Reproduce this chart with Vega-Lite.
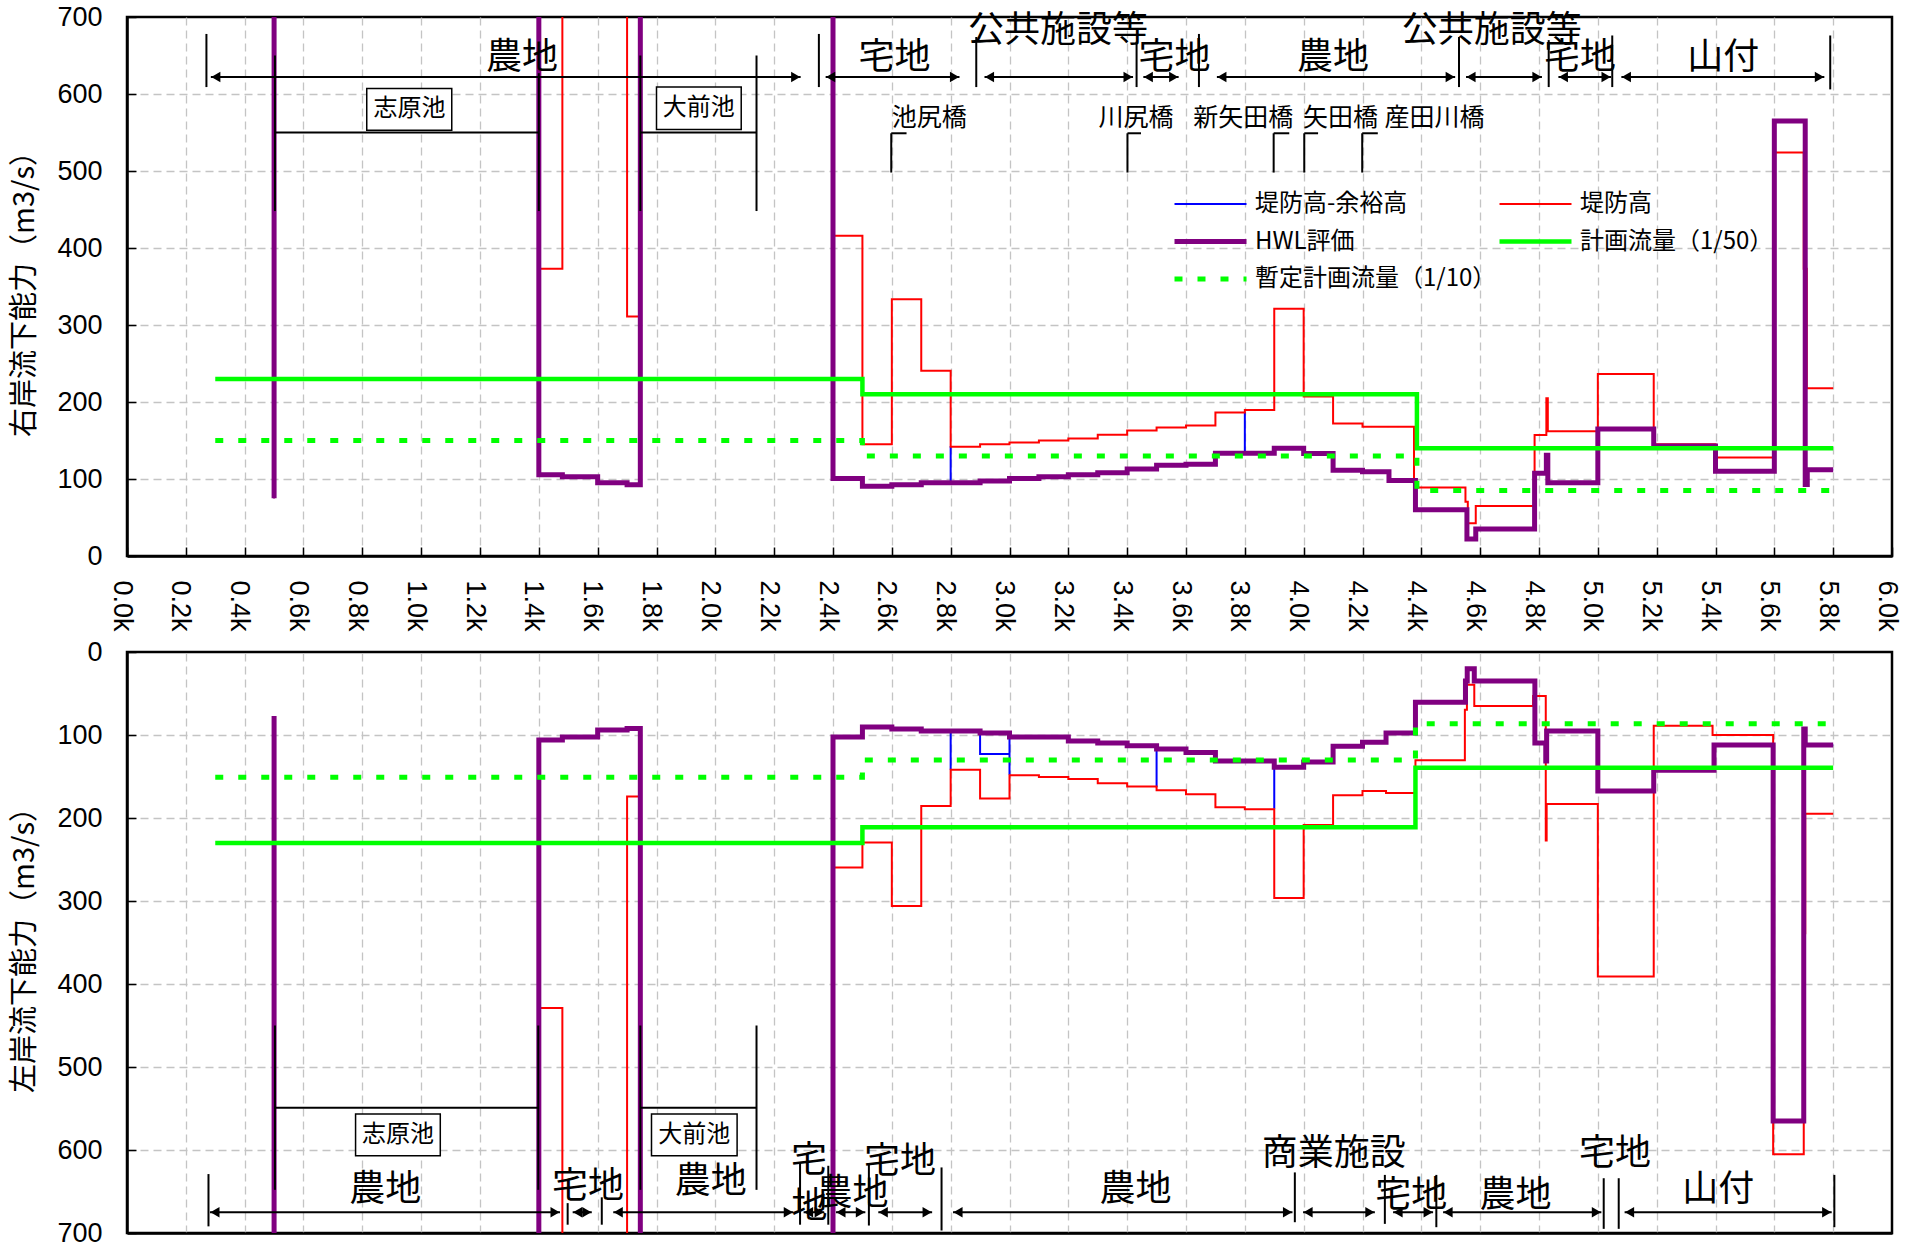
{
"$schema":"https://vega.github.io/schema/vega-lite/v6.json",
"background":"white",
"padding":{"left":9,"top":1,"right":5,"bottom":5},
"spacing":3,
"config":{
 "view":{"stroke":"black","strokeWidth":2.5},
 "axis":{"gridColor":"#c4c4c4","gridDash":[8,5],"gridWidth":1.3,"domainColor":"black","domainWidth":2.5,"tickColor":"black","tickWidth":1.5,"tickSize":-9,"labelFont":"Liberation Sans","labelFontSize":27,"labelColor":"black","labelFlush":false,"labelOverlap":false,"titleFont":"Noto Sans CJK JP","titleFontSize":29,"titleFontWeight":"normal","titleColor":"black"},
 "text":{"font":"Noto Sans CJK JP","color":"black"}
},
"datasets":{
"R":[
{"s":"堤防高-余裕高","x":0.3,"y":1000},{"s":"堤防高-余裕高","x":0.5,"y":75},{"s":"堤防高-余裕高","x":0.5,"y":1000},{"s":"堤防高-余裕高","x":1.4,"y":105.5},{"s":"堤防高-余裕高","x":1.48,"y":103},{"s":"堤防高-余裕高","x":1.6,"y":95},{"s":"堤防高-余裕高","x":1.7,"y":92.5},{"s":"堤防高-余裕高","x":1.745,"y":1000},{"s":"堤防高-余裕高","x":2.4,"y":100.5},{"s":"堤防高-余裕高","x":2.5,"y":90.5},{"s":"堤防高-余裕高","x":2.6,"y":92.5},{"s":"堤防高-余裕高","x":2.7,"y":95},{"s":"堤防高-余裕高","x":2.8,"y":143},{"s":"堤防高-余裕高","x":2.8,"y":95},{"s":"堤防高-余裕高","x":2.9,"y":97.5},{"s":"堤防高-余裕高","x":3.0,"y":100.5},{"s":"堤防高-余裕高","x":3.1,"y":103},{"s":"堤防高-余裕高","x":3.2,"y":105.5},{"s":"堤防高-余裕高","x":3.3,"y":108},{"s":"堤防高-余裕高","x":3.4,"y":113},{"s":"堤防高-余裕高","x":3.5,"y":118},{"s":"堤防高-余裕高","x":3.6,"y":119},{"s":"堤防高-余裕高","x":3.7,"y":133.5},{"s":"堤防高-余裕高","x":3.8,"y":187},{"s":"堤防高-余裕高","x":3.8,"y":133.5},{"s":"堤防高-余裕高","x":3.9,"y":140},{"s":"堤防高-余裕高","x":4.0,"y":133},{"s":"堤防高-余裕高","x":4.1,"y":111.5},{"s":"堤防高-余裕高","x":4.2,"y":109.5},{"s":"堤防高-余裕高","x":4.29,"y":98},{"s":"堤防高-余裕高","x":4.38,"y":60},{"s":"堤防高-余裕高","x":4.555,"y":22},{"s":"堤防高-余裕高","x":4.585,"y":35},{"s":"堤防高-余裕高","x":4.785,"y":107.5},{"s":"堤防高-余裕高","x":4.825,"y":131},{"s":"堤防高-余裕高","x":4.83,"y":95},{"s":"堤防高-余裕高","x":5.0,"y":165},{"s":"堤防高-余裕高","x":5.19,"y":143},{"s":"堤防高-余裕高","x":5.4,"y":110},{"s":"堤防高-余裕高","x":5.6,"y":565},{"s":"堤防高-余裕高","x":5.705,"y":93},{"s":"堤防高-余裕高","x":5.712,"y":112},{"s":"堤防高-余裕高","x":5.8,"y":112},
{"s":"堤防高","x":0.3,"y":1000},{"s":"堤防高","x":0.5,"y":75},{"s":"堤防高","x":0.5,"y":1000},{"s":"堤防高","x":1.4,"y":373},{"s":"堤防高","x":1.48,"y":1000},{"s":"堤防高","x":1.7,"y":311},{"s":"堤防高","x":1.745,"y":1000},{"s":"堤防高","x":2.4,"y":416},{"s":"堤防高","x":2.5,"y":145},{"s":"堤防高","x":2.6,"y":333.5},{"s":"堤防高","x":2.7,"y":240.5},{"s":"堤防高","x":2.8,"y":142},{"s":"堤防高","x":2.9,"y":145},{"s":"堤防高","x":3.0,"y":147.5},{"s":"堤防高","x":3.1,"y":150},{"s":"堤防高","x":3.2,"y":152.5},{"s":"堤防高","x":3.3,"y":157.5},{"s":"堤防高","x":3.4,"y":163},{"s":"堤防高","x":3.5,"y":167},{"s":"堤防高","x":3.6,"y":169.5},{"s":"堤防高","x":3.7,"y":186.5},{"s":"堤防高","x":3.8,"y":189.5},{"s":"堤防高","x":3.9,"y":321},{"s":"堤防高","x":4.0,"y":207},{"s":"堤防高","x":4.1,"y":172},{"s":"堤防高","x":4.2,"y":168},{"s":"堤防高","x":4.375,"y":89},{"s":"堤防高","x":4.55,"y":70.5},{"s":"堤防高","x":4.558,"y":42.5},{"s":"堤防高","x":4.585,"y":65},{"s":"堤防高","x":4.785,"y":157},{"s":"堤防高","x":4.825,"y":205},{"s":"堤防高","x":4.83,"y":162},{"s":"堤防高","x":5.0,"y":236.5},{"s":"堤防高","x":5.19,"y":145},{"s":"堤防高","x":5.4,"y":128},{"s":"堤防高","x":5.6,"y":524},{"s":"堤防高","x":5.7,"y":373},{"s":"堤防高","x":5.71,"y":218},{"s":"堤防高","x":5.8,"y":218},
{"s":"HWL評価","x":0.3,"y":1000},{"s":"HWL評価","x":0.5,"y":75},{"s":"HWL評価","x":0.5,"y":1000},{"s":"HWL評価","x":1.4,"y":105.5},{"s":"HWL評価","x":1.48,"y":103},{"s":"HWL評価","x":1.6,"y":95},{"s":"HWL評価","x":1.7,"y":92.5},{"s":"HWL評価","x":1.745,"y":1000},{"s":"HWL評価","x":2.4,"y":100.5},{"s":"HWL評価","x":2.5,"y":90.5},{"s":"HWL評価","x":2.6,"y":92.5},{"s":"HWL評価","x":2.7,"y":95},{"s":"HWL評価","x":2.9,"y":97.5},{"s":"HWL評価","x":3.0,"y":100.5},{"s":"HWL評価","x":3.1,"y":103},{"s":"HWL評価","x":3.2,"y":105.5},{"s":"HWL評価","x":3.3,"y":108},{"s":"HWL評価","x":3.4,"y":113},{"s":"HWL評価","x":3.5,"y":118},{"s":"HWL評価","x":3.6,"y":119},{"s":"HWL評価","x":3.7,"y":133.5},{"s":"HWL評価","x":3.9,"y":140},{"s":"HWL評価","x":4.0,"y":133},{"s":"HWL評価","x":4.1,"y":111.5},{"s":"HWL評価","x":4.2,"y":109.5},{"s":"HWL評価","x":4.29,"y":98},{"s":"HWL評価","x":4.38,"y":60},{"s":"HWL評価","x":4.555,"y":22},{"s":"HWL評価","x":4.585,"y":35},{"s":"HWL評価","x":4.785,"y":107.5},{"s":"HWL評価","x":4.825,"y":131},{"s":"HWL評価","x":4.83,"y":95},{"s":"HWL評価","x":5.0,"y":165},{"s":"HWL評価","x":5.19,"y":143},{"s":"HWL評価","x":5.4,"y":110},{"s":"HWL評価","x":5.6,"y":565},{"s":"HWL評価","x":5.705,"y":93},{"s":"HWL評価","x":5.712,"y":112},{"s":"HWL評価","x":5.8,"y":112},
{"s":"計画流量（1/50）","x":0.3,"y":230},{"s":"計画流量（1/50）","x":2.5,"y":210},{"s":"計画流量（1/50）","x":4.385,"y":140},{"s":"計画流量（1/50）","x":5.8,"y":140},
{"s":"暫定計画流量（1/10）","x":0.3,"y":150},{"s":"暫定計画流量（1/10）","x":2.5,"y":130},{"s":"暫定計画流量（1/10）","x":4.385,"y":85},{"s":"暫定計画流量（1/10）","x":5.8,"y":85}
],
"L":[
{"s":"堤防高-余裕高","x":0.3,"y":1000},{"s":"堤防高-余裕高","x":0.5,"y":77},{"s":"堤防高-余裕高","x":0.5,"y":1000},{"s":"堤防高-余裕高","x":1.4,"y":106},{"s":"堤防高-余裕高","x":1.48,"y":102.5},{"s":"堤防高-余裕高","x":1.6,"y":94},{"s":"堤防高-余裕高","x":1.7,"y":92.3},{"s":"堤防高-余裕高","x":1.745,"y":1000},{"s":"堤防高-余裕高","x":2.4,"y":102.5},{"s":"堤防高-余裕高","x":2.5,"y":90.3},{"s":"堤防高-余裕高","x":2.6,"y":92.8},{"s":"堤防高-余裕高","x":2.7,"y":95.2},{"s":"堤防高-余裕高","x":2.8,"y":142},{"s":"堤防高-余裕高","x":2.8,"y":95.2},{"s":"堤防高-余裕高","x":2.9,"y":123},{"s":"堤防高-余裕高","x":3.0,"y":148},{"s":"堤防高-余裕高","x":3.0,"y":102.4},{"s":"堤防高-余裕高","x":3.2,"y":107.2},{"s":"堤防高-余裕高","x":3.3,"y":109.7},{"s":"堤防高-余裕高","x":3.4,"y":113},{"s":"堤防高-余裕高","x":3.5,"y":163},{"s":"堤防高-余裕高","x":3.5,"y":117},{"s":"堤防高-余裕高","x":3.6,"y":121},{"s":"堤防高-余裕高","x":3.7,"y":131.4},{"s":"堤防高-余裕高","x":3.9,"y":189},{"s":"堤防高-余裕高","x":3.9,"y":139},{"s":"堤防高-余裕高","x":4.0,"y":132.4},{"s":"堤防高-余裕高","x":4.1,"y":113.5},{"s":"堤防高-余裕高","x":4.2,"y":108.7},{"s":"堤防高-余裕高","x":4.28,"y":97.6},{"s":"堤防高-余裕高","x":4.38,"y":60.4},{"s":"堤防高-余裕高","x":4.55,"y":34.8},{"s":"堤防高-余裕高","x":4.556,"y":20.3},{"s":"堤防高-余裕高","x":4.58,"y":34.8},{"s":"堤防高-余裕高","x":4.786,"y":109.7},{"s":"堤防高-余裕高","x":4.823,"y":131.4},{"s":"堤防高-余裕高","x":4.826,"y":95.2},{"s":"堤防高-余裕高","x":5.0,"y":167.6},{"s":"堤防高-余裕高","x":5.19,"y":142.5},{"s":"堤防高-余裕高","x":5.395,"y":112},{"s":"堤防高-余裕高","x":5.596,"y":565},{"s":"堤防高-余裕高","x":5.7,"y":92.8},{"s":"堤防高-余裕高","x":5.705,"y":112},{"s":"堤防高-余裕高","x":5.8,"y":112},
{"s":"堤防高","x":0.3,"y":1000},{"s":"堤防高","x":0.5,"y":77},{"s":"堤防高","x":0.5,"y":1000},{"s":"堤防高","x":1.4,"y":429},{"s":"堤防高","x":1.48,"y":1000},{"s":"堤防高","x":1.7,"y":174},{"s":"堤防高","x":1.745,"y":1000},{"s":"堤防高","x":2.4,"y":259.5},{"s":"堤防高","x":2.5,"y":229.5},{"s":"堤防高","x":2.6,"y":306},{"s":"堤防高","x":2.7,"y":185.5},{"s":"堤防高","x":2.8,"y":142},{"s":"堤防高","x":2.9,"y":176.5},{"s":"堤防高","x":3.0,"y":148.5},{"s":"堤防高","x":3.1,"y":150.5},{"s":"堤防高","x":3.2,"y":153},{"s":"堤防高","x":3.3,"y":158},{"s":"堤防高","x":3.4,"y":162},{"s":"堤防高","x":3.5,"y":166.5},{"s":"堤防高","x":3.6,"y":171.5},{"s":"堤防高","x":3.7,"y":187},{"s":"堤防高","x":3.8,"y":189.5},{"s":"堤防高","x":3.9,"y":296.5},{"s":"堤防高","x":4.0,"y":208.5},{"s":"堤防高","x":4.1,"y":172.5},{"s":"堤防高","x":4.2,"y":167.5},{"s":"堤防高","x":4.28,"y":170},{"s":"堤防高","x":4.38,"y":130.5},{"s":"堤防高","x":4.548,"y":69.5},{"s":"堤防高","x":4.555,"y":39.5},{"s":"堤防高","x":4.58,"y":65},{"s":"堤防高","x":4.78,"y":53},{"s":"堤防高","x":4.823,"y":227},{"s":"堤防高","x":4.826,"y":183},{"s":"堤防高","x":5.0,"y":391},{"s":"堤防高","x":5.19,"y":89},{"s":"堤防高","x":5.39,"y":100},{"s":"堤防高","x":5.596,"y":605},{"s":"堤防高","x":5.7,"y":339},{"s":"堤防高","x":5.705,"y":195},{"s":"堤防高","x":5.8,"y":195},
{"s":"HWL評価","x":0.3,"y":1000},{"s":"HWL評価","x":0.5,"y":77},{"s":"HWL評価","x":0.5,"y":1000},{"s":"HWL評価","x":1.4,"y":106},{"s":"HWL評価","x":1.48,"y":102.5},{"s":"HWL評価","x":1.6,"y":94},{"s":"HWL評価","x":1.7,"y":92.3},{"s":"HWL評価","x":1.745,"y":1000},{"s":"HWL評価","x":2.4,"y":102.5},{"s":"HWL評価","x":2.5,"y":90.3},{"s":"HWL評価","x":2.6,"y":92.8},{"s":"HWL評価","x":2.7,"y":95.2},{"s":"HWL評価","x":2.9,"y":97.6},{"s":"HWL評価","x":3.0,"y":102.4},{"s":"HWL評価","x":3.2,"y":107.2},{"s":"HWL評価","x":3.3,"y":109.7},{"s":"HWL評価","x":3.4,"y":113},{"s":"HWL評価","x":3.5,"y":117},{"s":"HWL評価","x":3.6,"y":121},{"s":"HWL評価","x":3.7,"y":131.4},{"s":"HWL評価","x":3.9,"y":139},{"s":"HWL評価","x":4.0,"y":132.4},{"s":"HWL評価","x":4.1,"y":113.5},{"s":"HWL評価","x":4.2,"y":108.7},{"s":"HWL評価","x":4.28,"y":97.6},{"s":"HWL評価","x":4.38,"y":60.4},{"s":"HWL評価","x":4.55,"y":34.8},{"s":"HWL評価","x":4.556,"y":20.3},{"s":"HWL評価","x":4.58,"y":34.8},{"s":"HWL評価","x":4.786,"y":109.7},{"s":"HWL評価","x":4.823,"y":131.4},{"s":"HWL評価","x":4.826,"y":95.2},{"s":"HWL評価","x":5.0,"y":167.6},{"s":"HWL評価","x":5.19,"y":142.5},{"s":"HWL評価","x":5.395,"y":112},{"s":"HWL評価","x":5.596,"y":565},{"s":"HWL評価","x":5.7,"y":92.8},{"s":"HWL評価","x":5.705,"y":112},{"s":"HWL評価","x":5.8,"y":112},
{"s":"計画流量（1/50）","x":0.3,"y":230},{"s":"計画流量（1/50）","x":2.5,"y":211},{"s":"計画流量（1/50）","x":4.38,"y":139.6},{"s":"計画流量（1/50）","x":5.8,"y":139.6},
{"s":"暫定計画流量（1/10）","x":0.3,"y":151},{"s":"暫定計画流量（1/10）","x":2.5,"y":130},{"s":"暫定計画流量（1/10）","x":4.38,"y":86.5},{"s":"暫定計画流量（1/10）","x":5.8,"y":86.5}
],
"arrT":[{"x":0.285,"x2":2.29,"y":622},{"x":2.375,"x2":2.83,"y":622},{"x":2.915,"x2":3.42,"y":622},{"x":3.455,"x2":3.575,"y":622},{"x":3.705,"x2":4.515,"y":622},{"x":4.552,"x2":4.81,"y":622},{"x":4.866,"x2":5.045,"y":622},{"x":5.08,"x2":5.77,"y":622}],
"linT":[
{"x":0.27,"x2":0.27,"y":609,"y2":678},{"x":2.352,"x2":2.352,"y":609,"y2":678},{"x":2.887,"x2":2.887,"y":609,"y2":674},{"x":3.432,"x2":3.432,"y":609,"y2":668},{"x":3.644,"x2":3.644,"y":609,"y2":678},{"x":4.528,"x2":4.528,"y":609,"y2":674},{"x":4.833,"x2":4.833,"y":609,"y2":670},{"x":5.049,"x2":5.049,"y":609,"y2":676},{"x":5.79,"x2":5.79,"y":606,"y2":676},
{"x":0.503,"x2":1.4,"y":550,"y2":550},{"x":1.745,"x2":2.14,"y":550,"y2":550},{"x":0.503,"x2":0.503,"y":448,"y2":650},{"x":1.4,"x2":1.4,"y":448,"y2":627},{"x":1.745,"x2":1.745,"y":448,"y2":650},{"x":2.14,"x2":2.14,"y":448,"y2":650},
{"x":2.598,"x2":2.598,"y":498,"y2":549},{"x":2.598,"x2":2.65,"y":549,"y2":549},{"x":3.401,"x2":3.401,"y":498,"y2":549},{"x":3.401,"x2":3.447,"y":549,"y2":549},{"x":3.898,"x2":3.898,"y":498,"y2":549},{"x":3.898,"x2":3.951,"y":549,"y2":549},{"x":4.002,"x2":4.002,"y":498,"y2":549},{"x":4.002,"x2":4.049,"y":549,"y2":549},{"x":4.199,"x2":4.199,"y":498,"y2":549},{"x":4.199,"x2":4.252,"y":549,"y2":549}
],
"labT":[{"x":1.343,"y":647,"t":"農地"},{"x":2.609,"y":647,"t":"宅地"},{"x":3.165,"y":682,"t":"公共施設等"},{"x":3.561,"y":647,"t":"宅地"},{"x":4.1,"y":647,"t":"農地"},{"x":4.639,"y":682,"t":"公共施設等"},{"x":4.939,"y":647,"t":"宅地"},{"x":5.426,"y":647,"t":"山付"}],
"brT":[{"x":2.727,"y":569,"t":"池尻橋"},{"x":3.43,"y":569,"t":"川尻橋"},{"x":3.795,"y":569,"t":"新矢田橋"},{"x":4.125,"y":569,"t":"矢田橋"},{"x":4.445,"y":569,"t":"産田川橋"}],
"pondT":[{"x":0.815,"x2":1.104,"y":553,"y2":607,"cx":0.96,"cy":580,"t":"志原池"},{"x":1.8,"x2":2.088,"y":554,"y2":609,"cx":1.944,"cy":581.5,"t":"大前池"}],
"arrB":[{"x":0.282,"x2":1.472,"y":675},{"x":1.515,"x2":1.58,"y":675},{"x":1.653,"x2":2.265,"y":675},{"x":2.3,"x2":2.37,"y":675},{"x":2.41,"x2":2.51,"y":675},{"x":2.554,"x2":2.737,"y":675},{"x":2.808,"x2":3.962,"y":675},{"x":3.998,"x2":4.242,"y":675},{"x":4.304,"x2":4.44,"y":675},{"x":4.474,"x2":5.012,"y":675},{"x":5.091,"x2":5.795,"y":675}],
"linB":[
{"x":0.277,"x2":0.277,"y":629,"y2":692},{"x":1.498,"x2":1.498,"y":664,"y2":690},{"x":1.614,"x2":1.614,"y":657,"y2":690},{"x":2.288,"x2":2.288,"y":616,"y2":690},{"x":2.384,"x2":2.384,"y":619,"y2":690},{"x":2.522,"x2":2.522,"y":616,"y2":691},{"x":2.769,"x2":2.769,"y":621,"y2":697},{"x":3.97,"x2":3.97,"y":627,"y2":687},{"x":4.276,"x2":4.276,"y":630,"y2":689},{"x":4.451,"x2":4.451,"y":630,"y2":693},{"x":5.02,"x2":5.02,"y":634,"y2":695},{"x":5.071,"x2":5.071,"y":634,"y2":695},{"x":5.804,"x2":5.804,"y":630,"y2":693},
{"x":0.503,"x2":1.398,"y":549,"y2":549},{"x":1.745,"x2":2.14,"y":549,"y2":549},{"x":0.503,"x2":0.503,"y":450,"y2":648},{"x":1.398,"x2":1.398,"y":450,"y2":648},{"x":1.745,"x2":1.745,"y":450,"y2":648},{"x":2.14,"x2":2.14,"y":450,"y2":648}
],
"labB":[{"x":0.878,"y":648,"t":"農地"},{"x":1.567,"y":645,"t":"宅地"},{"x":1.984,"y":639,"t":"農地"},{"x":2.318,"y":613,"t":"宅"},{"x":2.32,"y":669,"t":"地"},{"x":2.466,"y":653,"t":"農地"},{"x":2.628,"y":615,"t":"宅地"},{"x":3.428,"y":648,"t":"農地"},{"x":4.102,"y":605,"t":"商業施設"},{"x":4.366,"y":655,"t":"宅地"},{"x":4.72,"y":655,"t":"農地"},{"x":5.058,"y":605,"t":"宅地"},{"x":5.409,"y":648,"t":"山付"}],
"pondB":[{"x":0.777,"x2":1.065,"y":556.5,"y2":607,"cx":0.921,"cy":582,"t":"志原池"},{"x":1.783,"x2":2.074,"y":556.5,"y2":607,"cx":1.928,"cy":582,"t":"大前池"}]
},
"vconcat":[
{
 "width":1765,"height":539,
 "layer":[
  {
   "data":{"name":"R"},
   "encoding":{
    "x":{"field":"x","type":"quantitative","scale":{"domain":[0,6],"nice":false,"zero":false},
     "axis":{"title":null,"values":[0,0.1,0.2,0.3,0.4,0.5,0.6,0.7,0.8,0.9,1,1.1,1.2,1.3,1.4,1.5,1.6,1.7,1.8,1.9,2,2.1,2.2,2.3,2.4,2.5,2.6,2.7,2.8,2.9,3,3.1,3.2,3.3,3.4,3.5,3.6,3.7,3.8,3.9,4,4.1,4.2,4.3,4.4,4.5,4.6,4.7,4.8,4.9,5,5.1,5.2,5.3,5.4,5.5,5.6,5.7,5.8,5.9,6],
      "labelExpr":"round(datum.value*10)%2==0 ? format(datum.value,'.1f')+'k' : ''",
      "labelAngle":90,"labelAlign":"left","labelBaseline":"middle","labelPadding":33,"labelOffset":-6,
      "gridOpacity":{"condition":{"test":"round(datum.value*10)%2==1 || datum.value==0 || datum.value==6","value":0},"value":1}}},
    "y":{"field":"y","type":"quantitative","scale":{"domain":[0,700],"nice":false},
     "axis":{"title":"右岸流下能力（m3/s）","values":[0,100,200,300,400,500,600,700],"labelPadding":34,"titlePadding":17,
      "gridOpacity":{"condition":{"test":"datum.value==0 || datum.value==700","value":0},"value":1}}},
    "color":{"field":"s","type":"nominal","scale":{"domain":["堤防高-余裕高","堤防高","HWL評価","計画流量（1/50）","暫定計画流量（1/10）"],"range":["#0000ff","#ff0000","#800080","#00ff00","#00ff00"]},
     "legend":{"title":null,"orient":"none","direction":"horizontal","legendX":1045,"legendY":174,"columns":2,"symbolType":"stroke","symbolSize":5184,"clipHeight":26,"rowPadding":11.5,"columnPadding":0,"labelFont":"Noto Sans CJK JP","labelFontSize":24,"labelColor":"black","labelLimit":400,"labelOffset":6,"padding":0}},
    "strokeWidth":{"field":"s","type":"nominal","scale":{"type":"ordinal","domain":["堤防高-余裕高","堤防高","HWL評価","計画流量（1/50）","暫定計画流量（1/10）"],"range":[2,2,5,4.5,5]}},
    "strokeDash":{"field":"s","type":"nominal","scale":{"domain":["堤防高-余裕高","堤防高","HWL評価","計画流量（1/50）","暫定計画流量（1/10）"],"range":[[1,0],[1,0],[1,0],[1,0],[8,15]]}},
    "order":{"value":null}
   },
   "layer":[
    {"transform":[{"filter":"datum.s==='堤防高-余裕高'"}],"mark":{"type":"line","interpolate":"step-after","clip":true}},
    {"transform":[{"filter":"datum.s==='堤防高'"}],"mark":{"type":"line","interpolate":"step-after","clip":true}},
    {"transform":[{"filter":"datum.s==='HWL評価'"}],"mark":{"type":"line","interpolate":"step-after","clip":true}},
    {"transform":[{"filter":"datum.s==='計画流量（1/50）'"}],"mark":{"type":"line","interpolate":"step-after","clip":true}},
    {"transform":[{"filter":"datum.s==='暫定計画流量（1/10）'"}],"mark":{"type":"line","interpolate":"step-after","clip":true}}
   ]
  },
  {"data":{"name":"linT"},"mark":{"type":"rule","color":"black","strokeWidth":2},"encoding":{"x":{"field":"x","type":"quantitative"},"x2":{"field":"x2"},"y":{"field":"y","type":"quantitative"},"y2":{"field":"y2"}}},
  {"data":{"name":"arrT"},"mark":{"type":"rule","color":"black","strokeWidth":2},"encoding":{"x":{"field":"x","type":"quantitative"},"x2":{"field":"x2"},"y":{"field":"y","type":"quantitative"}}},
  {"data":{"name":"arrT"},"mark":{"type":"point","shape":"triangle-left","filled":true,"color":"black","opacity":1,"size":110,"xOffset":5},"encoding":{"x":{"field":"x","type":"quantitative"},"y":{"field":"y","type":"quantitative"}}},
  {"data":{"name":"arrT"},"mark":{"type":"point","shape":"triangle-right","filled":true,"color":"black","opacity":1,"size":110,"xOffset":-5},"encoding":{"x":{"field":"x2","type":"quantitative"},"y":{"field":"y","type":"quantitative"}}},
  {"data":{"name":"pondT"},"mark":{"type":"rect","fill":"white","stroke":"black","strokeWidth":1.5},"encoding":{"x":{"field":"x","type":"quantitative"},"x2":{"field":"x2"},"y":{"field":"y","type":"quantitative"},"y2":{"field":"y2"}}},
  {"data":{"name":"pondT"},"mark":{"type":"text","fontSize":24},"encoding":{"x":{"field":"cx","type":"quantitative"},"y":{"field":"cy","type":"quantitative"},"text":{"field":"t"}}},
  {"data":{"name":"brT"},"mark":{"type":"text","fontSize":25},"encoding":{"x":{"field":"x","type":"quantitative"},"y":{"field":"y","type":"quantitative"},"text":{"field":"t"}}},
  {"data":{"name":"labT"},"mark":{"type":"text","fontSize":36},"encoding":{"x":{"field":"x","type":"quantitative"},"y":{"field":"y","type":"quantitative"},"text":{"field":"t"}}}
 ]
},
{
 "width":1765,"height":581,
 "layer":[
  {
   "data":{"name":"L"},
   "encoding":{
    "x":{"field":"x","type":"quantitative","scale":{"domain":[0,6],"nice":false,"zero":false},
     "axis":{"title":null,"values":[0,0.2,0.4,0.6,0.8,1,1.2,1.4,1.6,1.8,2,2.2,2.4,2.6,2.8,3,3.2,3.4,3.6,3.8,4,4.2,4.4,4.6,4.8,5,5.2,5.4,5.6,5.8,6],"labels":false,"ticks":false,
      "gridOpacity":{"condition":{"test":"datum.value==0 || datum.value==6","value":0},"value":1}}},
    "y":{"field":"y","type":"quantitative","scale":{"domain":[0,700],"nice":false,"reverse":true},
     "axis":{"title":"左岸流下能力（m3/s）","values":[0,100,200,300,400,500,600,700],"labelPadding":34,"titlePadding":17,
      "gridOpacity":{"condition":{"test":"datum.value==0 || datum.value==700","value":0},"value":1}}},
    "order":{"value":null}
   },
   "layer":[
    {"transform":[{"filter":"datum.s==='堤防高-余裕高'"}],"mark":{"type":"line","interpolate":"step-after","clip":true,"color":"#0000ff","strokeWidth":2}},
    {"transform":[{"filter":"datum.s==='堤防高'"}],"mark":{"type":"line","interpolate":"step-after","clip":true,"color":"#ff0000","strokeWidth":2}},
    {"transform":[{"filter":"datum.s==='HWL評価'"}],"mark":{"type":"line","interpolate":"step-after","clip":true,"color":"#800080","strokeWidth":5}},
    {"transform":[{"filter":"datum.s==='計画流量（1/50）'"}],"mark":{"type":"line","interpolate":"step-after","clip":true,"color":"#00ff00","strokeWidth":4.5}},
    {"transform":[{"filter":"datum.s==='暫定計画流量（1/10）'"}],"mark":{"type":"line","interpolate":"step-after","clip":true,"color":"#00ff00","strokeWidth":5,"strokeDash":[8,15]}}
   ]
  },
  {"data":{"name":"linB"},"mark":{"type":"rule","color":"black","strokeWidth":2},"encoding":{"x":{"field":"x","type":"quantitative"},"x2":{"field":"x2"},"y":{"field":"y","type":"quantitative"},"y2":{"field":"y2"}}},
  {"data":{"name":"arrB"},"mark":{"type":"rule","color":"black","strokeWidth":2},"encoding":{"x":{"field":"x","type":"quantitative"},"x2":{"field":"x2"},"y":{"field":"y","type":"quantitative"}}},
  {"data":{"name":"arrB"},"mark":{"type":"point","shape":"triangle-left","filled":true,"color":"black","opacity":1,"size":110,"xOffset":5},"encoding":{"x":{"field":"x","type":"quantitative"},"y":{"field":"y","type":"quantitative"}}},
  {"data":{"name":"arrB"},"mark":{"type":"point","shape":"triangle-right","filled":true,"color":"black","opacity":1,"size":110,"xOffset":-5},"encoding":{"x":{"field":"x2","type":"quantitative"},"y":{"field":"y","type":"quantitative"}}},
  {"data":{"name":"pondB"},"mark":{"type":"rect","fill":"white","stroke":"black","strokeWidth":1.5},"encoding":{"x":{"field":"x","type":"quantitative"},"x2":{"field":"x2"},"y":{"field":"y","type":"quantitative"},"y2":{"field":"y2"}}},
  {"data":{"name":"pondB"},"mark":{"type":"text","fontSize":24},"encoding":{"x":{"field":"cx","type":"quantitative"},"y":{"field":"cy","type":"quantitative"},"text":{"field":"t"}}},
  {"data":{"name":"labB"},"mark":{"type":"text","fontSize":36},"encoding":{"x":{"field":"x","type":"quantitative"},"y":{"field":"y","type":"quantitative"},"text":{"field":"t"}}}
 ]
}
]
}
